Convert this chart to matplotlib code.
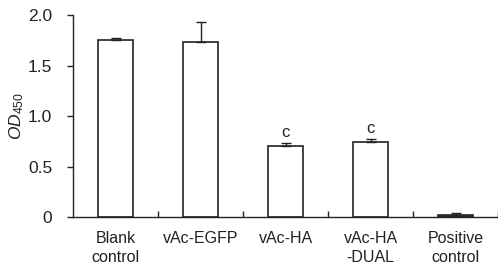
import matplotlib
matplotlib.use("Agg")
import matplotlib.pyplot as plt

categories = ["Blank\ncontrol", "vAc-EGFP", "vAc-HA", "vAc-HA\n-DUAL", "Positive\ncontrol"]
values = [1.75, 1.73, 0.70, 0.74, 0.02]
errors = [0.02, 0.20, 0.035, 0.03, 0.02]
annotations = ["", "", "c", "c", ""]
bar_colors = ["white", "white", "white", "white", "#555555"]
yticks = [0, 0.5, 1.0, 1.5, 2.0]
yticklabels = ["0", "0.5", "1.0", "1.5", "2.0"]

plt.rcParams['font.family'] = ['Liberation Sans', 'DejaVu Sans']
plt.rcParams['mathtext.fontset'] = 'custom'
plt.rcParams['mathtext.rm'] = 'Liberation Sans'
plt.rcParams['mathtext.it'] = 'Liberation Sans:italic'

fig = plt.figure(figsize=(4.98, 2.69), dpi=100)
ax = fig.add_axes([0.1466, 0.193, 0.8534, 0.751])

x = list(range(len(categories)))
ax.bar(x, values, width=0.41, color=bar_colors, edgecolor="#222222", linewidth=1.2, zorder=2)
ax.errorbar(x, values, yerr=[[0]*len(values), errors], fmt="none", ecolor="#222222",
            elinewidth=1.0, capsize=3.5, capthick=1.0, zorder=3)
for xi, v, e, a in zip(x, values, errors, annotations):
    if a:
        ax.text(xi, v + e + 0.03, a, ha="center", va="bottom", fontsize=12, color="#222222")

ax.set_xlim(-0.5, len(categories) - 0.5)
ax.set_ylim(0, 2.0)
ax.set_yticks(yticks)
ax.set_yticklabels(yticklabels, fontsize=12.5, color="#222222")
ax.set_xticks([i + 0.5 for i in x])
ax.set_xticklabels([])
ax.set_xticks(x, minor=True)
ax.set_xticklabels(categories, minor=True, fontsize=11.5, color="#222222", linespacing=1.35)
ax.tick_params(axis="x", which="major", direction="in", length=4, width=1, color="#222222")
ax.tick_params(axis="x", which="minor", length=0, pad=10)
ax.tick_params(axis="y", direction="out", length=4, width=1, color="#222222", pad=11)

for s in ["top", "right"]:
    ax.spines[s].set_visible(False)
for s in ["left", "bottom"]:
    ax.spines[s].set_linewidth(1.0)
    ax.spines[s].set_color("#222222")

fig.text(0.034, 0.57, r"$\mathit{OD}_{\mathrm{450}}$", rotation=90, ha="center", va="center",
         fontsize=12.5, color="#222222")

fig.savefig("out.png", dpi=100)
